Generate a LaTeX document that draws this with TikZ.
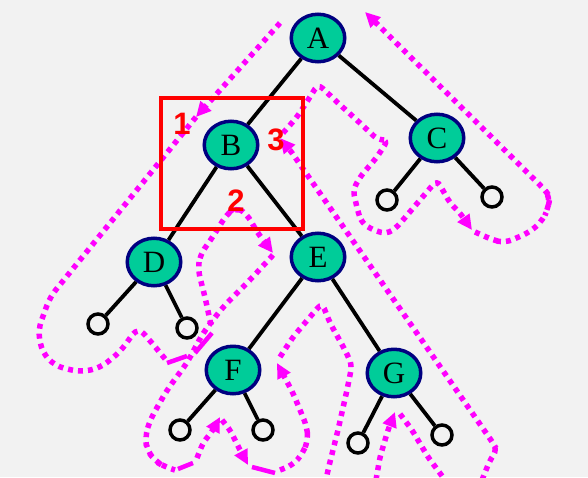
\documentclass[tikz,border=0pt]{standalone}
\usepackage{fontspec}
\setmainfont{Liberation Serif}
\newfontfamily\digitfont{Liberation Sans}
\usetikzlibrary{shapes.geometric,arrows.meta}
\definecolor{bgc}{RGB}{242,242,242}
\definecolor{nodeteal}{RGB}{0,204,153}
\definecolor{navyc}{RGB}{0,0,128}
\definecolor{mag}{RGB}{255,0,255}
\definecolor{redbox}{RGB}{255,0,0}
\begin{document}
\begin{tikzpicture}[x=1pt,y=-1pt,
  tnode/.style={ellipse, draw=navyc, line width=3.5pt, fill=nodeteal, minimum width=53.5pt, minimum height=47.5pt, inner sep=0pt, font=\fontsize{31}{31}\selectfont},
  leaf/.style={circle, draw=black, line width=3.5pt, fill=bgc, minimum size=20pt, inner sep=0pt},
  tedge/.style={line width=3.8pt, draw=black},
  trail/.style={draw=mag, line width=5.5pt, dash pattern=on 5pt off 5pt, rounded corners=5pt},
  trailarrow/.style={trail, -{Triangle[length=15pt,width=14pt]}},
  solidbit/.style={draw=mag, line width=4.5pt},
  num/.style={text=redbox, font=\digitfont\bfseries\fontsize{31}{31}\selectfont, inner sep=0pt}
]
\useasboundingbox (0,0) rectangle (588,477);
\fill[bgc] (0,0) rectangle (588,477);

% traversal trail
\draw[trailarrow] (280,23) -- (196,117);
\draw[trail, rounded corners=9pt] (196,117) -- (50,297) -- (38,330) -- (42,352) -- (55,366) -- (80,372) -- (100,368) -- (120,352) -- (138,327) -- (152,343) -- (166,360);
\draw[solidbit] (167,363) -- (187,356);
\draw[solidbit] (195,353) -- (212,333);
\draw[trailarrow, rounded corners=8pt] (211,325) -- (205,297) -- (198,270) -- (200,255) -- (212,238) -- (227,214) -- (236,207) -- (247,214) -- (257,232) -- (273,253);
\draw[trail, rounded corners=9pt] (273,255) -- (250,280) -- (223,307) -- (203,333) -- (187,363) -- (167,390) -- (150,420) -- (145,437) -- (147,450) -- (155,461) -- (165,467) -- (175,470);
\draw[solidbit] (178,469) -- (193,463);
\draw[trailarrow] (197,458) -- (203,443) -- (213,430) -- (220,417);
\draw[trailarrow] (222,420) -- (230,430) -- (240,450) -- (248,465);
\draw[solidbit] (252,467) -- (275,473);
\draw[trailarrow, rounded corners=8pt] (280,470) -- (293,465) -- (303,453) -- (308,440) -- (307,427) -- (300,410) -- (293,393) -- (277,363);
\draw[trail, rounded corners=6pt] (280,357) -- (293,337) -- (310,317) -- (322,303) -- (330,323) -- (345,350) -- (352,365) -- (347,390) -- (338,430) -- (328,470) -- (326,480);
\draw[trailarrow] (376,480) -- (380,457) -- (388,430) -- (395,412);
\draw[trail] (400,414) -- (412,430) -- (428,457) -- (445,480);
\draw[trailarrow, rounded corners=6pt] (482,480) -- (490,460) -- (497,450) -- (493,443) -- (290,150) -- (280,138);
\draw[trailarrow, rounded corners=6pt] (283,133) -- (297,117) -- (310,97) -- (318,84) -- (337,102) -- (360,123) -- (378,140) -- (388,140) -- (377,157) -- (360,177) -- (353,190) -- (358,212) -- (362,223) -- (373,230) -- (387,234) -- (397,227) -- (420,200) -- (437,180) -- (450,203) -- (460,213) -- (472,230);
\draw[trailarrow, rounded corners=8pt] (475,232) -- (493,240) -- (505,243) -- (530,232) -- (543,220) -- (548,208) -- (550,197) -- (545,190) -- (365,12);

% tree nodes
\node[tnode] (A) at (318,38) {A};
\node[tnode] (B) at (231,145) {B};
\node[tnode] (C) at (437,138) {C};
\node[tnode] (D) at (154,262) {D};
\node[tnode] (E) at (318,257) {E};
\node[tnode] (F) at (233,370) {F};
\node[tnode] (G) at (394,373) {G};
\node[leaf] (cl) at (387,200) {};
\node[leaf] (cr) at (492,197) {};
\node[leaf] (dl) at (98,324) {};
\node[leaf] (dr) at (187,328) {};
\node[leaf] (fl) at (180,430) {};
\node[leaf] (fr) at (263,430) {};
\node[leaf] (gl) at (358,443) {};
\node[leaf] (gr) at (442,435) {};

% tree edges
\draw[tedge] (A) -- (B);
\draw[tedge] (A) -- (C);
\draw[tedge] (B) -- (D);
\draw[tedge] (B) -- (E);
\draw[tedge] (E) -- (F);
\draw[tedge] (E) -- (G);
\draw[tedge] (C) -- (cl);
\draw[tedge] (C) -- (cr);
\draw[tedge] (D) -- (dl);
\draw[tedge] (D) -- (dr);
\draw[tedge] (F) -- (fl);
\draw[tedge] (F) -- (fr);
\draw[tedge] (G) -- (gl);
\draw[tedge] (G) -- (gr);

% red box and labels
\node[draw=redbox, line width=3.5pt, minimum width=142pt, minimum height=131pt, inner sep=0pt] (box) at (232,163.5) {};
\node[num] (n1) at (182,124) {1};
\node[num] (n2) at (236,201) {2};
\node[num] (n3) at (276,140) {3};
\end{tikzpicture}
\end{document}
